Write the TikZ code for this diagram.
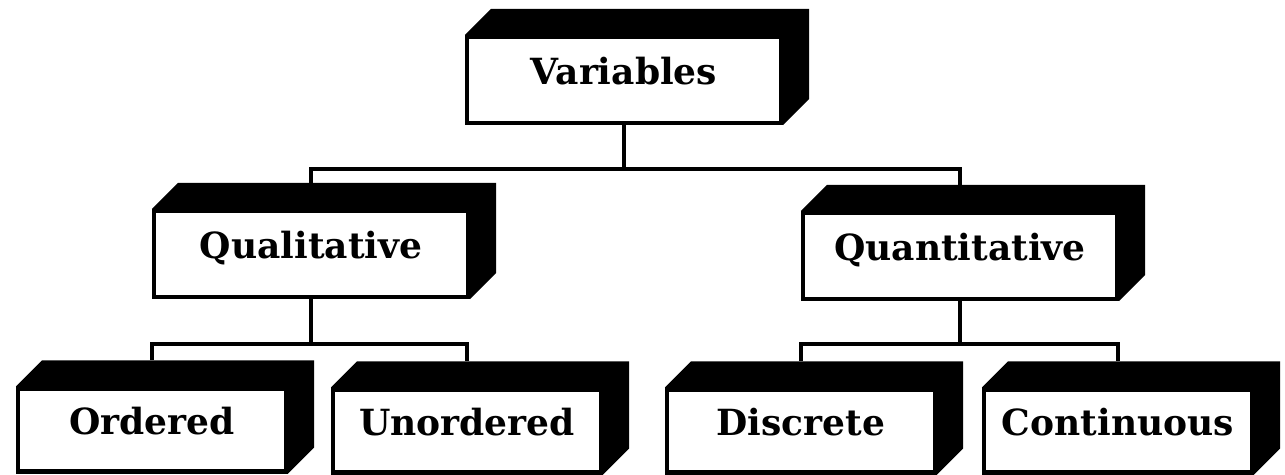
\documentclass[tikz,border=0pt]{standalone}
\usepackage{fontspec}
\setmainfont{DejaVu Serif}
\usetikzlibrary{calc,backgrounds}
\begin{document}
\begin{tikzpicture}[x=0.02cm, y=-0.02cm,
        varbox/.style={draw, fill=white, line width=2.4pt, inner sep=0pt,
            text height=12pt, text depth=6.8pt,
            font=\fontsize{20.5}{24}\selectfont\bfseries},
        topbox/.style={varbox, minimum width=6.28cm, minimum height=1.72cm},
        lowbox/.style={varbox, minimum width=5.36cm, minimum height=1.66cm},
        link/.style={line width=2pt}]
    \useasboundingbox (0,0) rectangle (1285,475);
    % the boxes
    \node [topbox] (var) at (624, 80) {Variables};
    \node [topbox] (qual) at (311, 254) {Qualitative};
    \node [topbox] (quant) at (960, 256) {Quantitative};
    \node [lowbox] (ord) at (152, 430) {Ordered};
    \node [lowbox] (unord) at (467, 431) {Unordered};
    \node [lowbox] (disc) at (801, 431) {Discrete};
    \node [lowbox] (cont) at (1118, 431) {Continuous};
    % solid black sides
    \begin{scope}[on background layer]
        \foreach \n in {var, qual, quant, ord, unord, disc, cont}
            \fill (\n.north west) -- ($(\n.north west)+(26,-26)$) -| ($(\n.south east)+(26,-26)$)
                -- (\n.south east) -- (\n.north east) -- cycle;
    \end{scope}
    % the links
    \draw [link] (var.south) -- ++(0, 44) coordinate (vj);
    \draw [link] (vj) -| ($(qual.north)+(0,-26)$);
    \draw [link] (vj) -| ($(quant.north)+(0,-26)$);
    \draw [link] (qual.south) -- ++(0, 45) coordinate (qj);
    \draw [link] (qj) -| ($(ord.north)+(0,-26)$);
    \draw [link] (qj) -| ($(unord.north)+(0,-26)$);
    \draw [link] (quant.south) -- ++(0, 43) coordinate (nj);
    \draw [link] (nj) -| ($(disc.north)+(0,-26)$);
    \draw [link] (nj) -| ($(cont.north)+(0,-26)$);
\end{tikzpicture}
\end{document}
